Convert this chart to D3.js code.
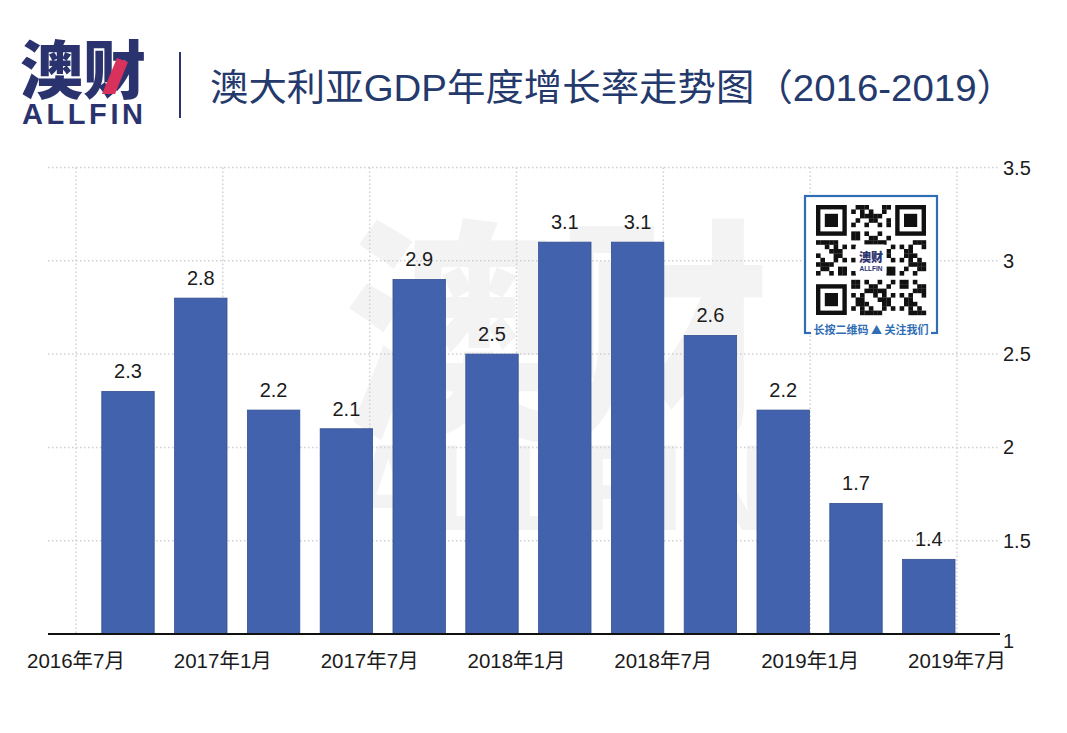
<!DOCTYPE html>
<html>
<head>
<meta charset="utf-8">
<script src="https://cdn.jsdelivr.net/npm/d3@7"></script>
<style>
  html, body { margin: 0; padding: 0; background: #fff; }
  svg { display: block; }
</style>
</head>
<body>
<svg id="chart" width="1067" height="733"></svg>
<script>
// ---- data ----
const categories = ["2016Q3", "2016Q4", "2017Q1", "2017Q2", "2017Q3", "2017Q4",
                    "2018Q1", "2018Q2", "2018Q3", "2018Q4", "2019Q1", "2019Q2"];
const values = [2.3, 2.8, 2.2, 2.1, 2.9, 2.5, 3.1, 3.1, 2.6, 2.2, 1.7, 1.4];
const xTickLabels = ["2016年7月", "2017年1月", "2017年7月", "2018年1月", "2018年7月", "2019年1月", "2019年7月"];
const yTicks = [1, 1.5, 2, 2.5, 3, 3.5];
const title = "澳大利亚GDP年度增长率走势图（2016-2019）";

// ---- setup ----
const svg = d3.select("#chart");
const latin = "'Liberation Sans', 'Noto Sans CJK SC', sans-serif";
const cjk = "'Noto Sans CJK SC', sans-serif";
const navy = "#2b336e";
const barColor = "#4262ad";

svg.append("rect").attr("width", 1067).attr("height", 733).attr("fill", "#fff");

// scales
const y = d3.scaleLinear().domain([1, 3.5]).range([634, 167.5]);
const x = d3.scaleBand().domain(categories).range([91.6, 965.2]).paddingInner(0.28).paddingOuter(0.14);
const xt = d3.scalePoint().domain(xTickLabels).range([76, 957]);
const plotLeft = 48, plotRight = 998;

// ---- header ----
const header = svg.append("g");
header.append("text")
  .attr("x", 20).attr("y", 93)
  .attr("font-family", cjk).attr("font-weight", 900).attr("font-size", 63)
  .attr("fill", navy)
  .attr("textLength", 126).attr("lengthAdjust", "spacingAndGlyphs")
  .text("澳财");
header.append("path")
  .attr("d", "M117,58 L128,62 L115,94 L102,94 Z")
  .attr("fill", "#d8315b");
header.append("text")
  .attr("x", 22).attr("y", 124)
  .attr("font-family", latin).attr("font-weight", 700).attr("font-size", 29)
  .attr("fill", navy)
  .attr("textLength", 121).attr("lengthAdjust", "spacing")
  .text("ALLFIN");
header.append("line")
  .attr("x1", 180).attr("x2", 180).attr("y1", 52).attr("y2", 118)
  .attr("stroke", navy).attr("stroke-width", 2);
header.append("text")
  .attr("x", 210).attr("y", 101)
  .attr("font-family", latin).attr("font-size", 37)
  .attr("fill", "#24396c")
  .attr("textLength", 805).attr("lengthAdjust", "spacingAndGlyphs")
  .text(title);

// ---- watermark ----
const wm = svg.append("g").attr("fill", "#f3f3f4");
wm.append("text")
  .attr("x", 557).attr("y", 420).attr("text-anchor", "middle")
  .attr("font-family", cjk).attr("font-weight", 900).attr("font-size", 235)
  .attr("textLength", 425).attr("lengthAdjust", "spacingAndGlyphs")
  .text("澳财");
wm.append("text")
  .attr("x", 345).attr("y", 530)
  .attr("font-family", latin).attr("font-weight", 700).attr("font-size", 122)
  .attr("textLength", 425).attr("lengthAdjust", "spacingAndGlyphs")
  .text("ALLFIN");

// ---- gridlines ----
const grid = svg.append("g")
  .attr("stroke", "#cfcfd4").attr("stroke-width", 1.5).attr("stroke-dasharray", "1.5,2.5");
grid.selectAll("line.h")
  .data(yTicks.filter(d => d > 1))
  .join("line")
  .attr("class", "h")
  .attr("x1", plotLeft).attr("x2", plotRight)
  .attr("y1", d => y(d)).attr("y2", d => y(d));
grid.selectAll("line.v")
  .data(xTickLabels)
  .join("line")
  .attr("class", "v")
  .attr("x1", d => xt(d)).attr("x2", d => xt(d))
  .attr("y1", y(3.5)).attr("y2", y(1));

// ---- QR badge ----
const qr = svg.append("g");
qr.append("rect")
  .attr("x", 805).attr("y", 196).attr("width", 132).attr("height", 137)
  .attr("fill", "#fff").attr("stroke", "#2f6db4").attr("stroke-width", 2.2);
const N = 25, m = 4.4, ox = 816, oy = 205;
const cells = [];
const inFinder = (i, j) => (i < 8 && j < 8) || (i >= N - 8 && j < 8) || (i < 8 && j >= N - 8);
for (let i = 0; i < N; i++) {
  for (let j = 0; j < N; j++) {
    if (inFinder(i, j)) continue;
    if (i >= 9 && i <= 15 && j >= 9 && j <= 15) continue;
    if (((i * 31 + j * 17 + i * j * 7) % 11) < 5) cells.push([i, j]);
  }
}
qr.append("g").attr("fill", "#111")
  .selectAll("rect").data(cells).join("rect")
  .attr("x", d => ox + d[0] * m).attr("y", d => oy + d[1] * m)
  .attr("width", m + 0.2).attr("height", m + 0.2);
[[0, 0], [N - 7, 0], [0, N - 7]].forEach(([i, j]) => {
  qr.append("rect").attr("x", ox + i * m + m / 2).attr("y", oy + j * m + m / 2)
    .attr("width", 6 * m).attr("height", 6 * m)
    .attr("fill", "none").attr("stroke", "#111").attr("stroke-width", m);
  qr.append("rect").attr("x", ox + (i + 2) * m).attr("y", oy + (j + 2) * m)
    .attr("width", 3 * m).attr("height", 3 * m).attr("fill", "#111");
});
qr.append("rect")
  .attr("x", ox + 9 * m).attr("y", oy + 9 * m).attr("width", 7 * m).attr("height", 7 * m)
  .attr("rx", 3).attr("fill", "#fff");
qr.append("text")
  .attr("x", ox + 12.5 * m).attr("y", oy + 12.9 * m).attr("text-anchor", "middle")
  .attr("font-family", cjk).attr("font-weight", 900).attr("font-size", 12).attr("fill", navy)
  .text("澳财");
qr.append("text")
  .attr("x", ox + 12.5 * m).attr("y", oy + 15 * m).attr("text-anchor", "middle")
  .attr("font-family", latin).attr("font-weight", 700).attr("font-size", 6.5).attr("fill", navy)
  .text("ALLFIN");
qr.append("rect")
  .attr("x", 811).attr("y", 321).attr("width", 120).attr("height", 16).attr("fill", "#fff");
qr.append("text")
  .attr("x", 871).attr("y", 334).attr("text-anchor", "middle")
  .attr("font-family", cjk).attr("font-weight", 700).attr("font-size", 11)
  .attr("fill", "#2f6db4")
  .text("长按二维码 ▲ 关注我们");

// ---- bars ----
svg.append("g")
  .selectAll("rect")
  .data(values)
  .join("rect")
  .attr("x", (d, i) => x(categories[i]))
  .attr("y", d => y(d))
  .attr("width", x.bandwidth())
  .attr("height", d => y(1) - y(d))
  .attr("fill", barColor)
  .attr("stroke", "#35508f").attr("stroke-width", 0.8);

// value labels
svg.append("g")
  .selectAll("text")
  .data(values)
  .join("text")
  .attr("x", (d, i) => x(categories[i]) + x.bandwidth() / 2)
  .attr("y", d => y(d) - 13)
  .attr("text-anchor", "middle")
  .attr("font-family", latin).attr("font-size", 20).attr("fill", "#1b1b1b")
  .text(d => d3.format(".1f")(d));

// ---- axes ----
svg.append("line")
  .attr("x1", plotLeft).attr("x2", plotRight + 2)
  .attr("y1", y(1)).attr("y2", y(1))
  .attr("stroke", "#111").attr("stroke-width", 2);

svg.append("g")
  .selectAll("text")
  .data(yTicks)
  .join("text")
  .attr("x", 1003)
  .attr("y", d => y(d) + (d === 1 ? 7 : 0))
  .attr("dy", "0.35em")
  .attr("font-family", latin).attr("font-size", 20).attr("fill", "#1b1b1b")
  .text(d => d);

svg.append("g")
  .selectAll("text")
  .data(xTickLabels)
  .join("text")
  .attr("x", d => xt(d))
  .attr("y", 668)
  .attr("text-anchor", "middle")
  .attr("font-family", latin).attr("font-size", 20.5).attr("fill", "#1b1b1b")
  .text(d => d);
</script>
</body>
</html>
